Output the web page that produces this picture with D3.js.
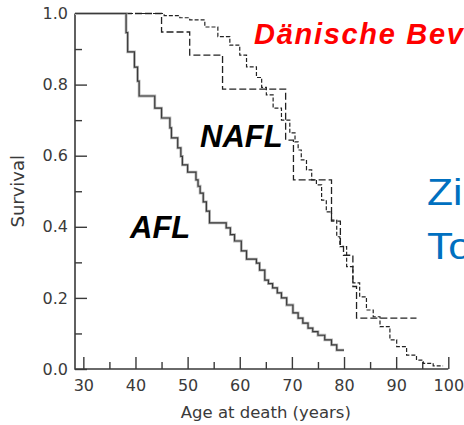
<!DOCTYPE html>
<html>
<head>
<meta charset="utf-8">
<script src="https://cdn.jsdelivr.net/npm/d3@7"></script>
<style>
  body { margin: 0; background: #fff; }
  svg { display: block; }
</style>
</head>
<body>
<script>
// axis ticks
var xTicks = [30, 40, 50, 60, 70, 80, 90, 100];
var xMinor = [35, 45, 55, 65, 75, 85, 95];
var yTicks = [0, 0.2, 0.4, 0.6, 0.8, 1.0];
var yMinor = [0.1, 0.3, 0.5, 0.7, 0.9];

// AFL (Kaplan-Meier, solid)
var aflAge  = [28.4, 38.2, 38.5, 39.8, 40.4, 40.7, 43.7, 45.0, 46.6, 46.9, 48.1, 48.7, 49.0, 50.0, 51.6, 52.0, 52.4, 53.0, 53.6, 54.2, 57.4, 58.2, 59.0, 60.3, 61.3, 63.2, 63.8, 64.8, 65.5, 66.3, 67.2, 68.0, 69.0, 70.2, 71.2, 72.1, 73.1, 74.0, 75.0, 76.3, 77.6, 78.6, 80.0];
var aflSurv = [1.0, 0.946, 0.892, 0.849, 0.81, 0.768, 0.734, 0.706, 0.678, 0.65, 0.622, 0.598, 0.574, 0.554, 0.532, 0.514, 0.495, 0.47, 0.444, 0.411, 0.397, 0.378, 0.36, 0.332, 0.309, 0.298, 0.278, 0.25, 0.24, 0.228, 0.214, 0.2, 0.18, 0.158, 0.143, 0.129, 0.115, 0.105, 0.095, 0.082, 0.068, 0.053, 0.053];

// NAFL (Kaplan-Meier, long dashes)
var naflAge  = [28.4, 45.0, 50.4, 56.7, 68.8, 70.3, 77.6, 79.3, 79.9, 81.7, 82.4, 93.9];
var naflSurv = [1.0, 0.948, 0.883, 0.787, 0.644, 0.532, 0.416, 0.345, 0.32, 0.232, 0.143, 0.143];

// expected survival, background population (short dashes)
var popAge  = [28.4, 45.5, 48.5, 50.4, 53.3, 55.8, 58.1, 60.0, 61.3, 63.2, 64.2, 65.1, 66.4, 68.0, 69.6, 70.6, 71.2, 71.8, 72.8, 73.8, 74.7, 75.7, 76.6, 77.6, 78.6, 79.2, 80.5, 81.7, 83.0, 84.3, 85.6, 86.9, 88.8, 90.1, 92.0, 93.9, 95.2, 97.1, 99.0];
var popSurv = [1.0, 0.994, 0.988, 0.982, 0.962, 0.935, 0.911, 0.883, 0.85, 0.82, 0.792, 0.771, 0.734, 0.7, 0.664, 0.639, 0.616, 0.588, 0.56, 0.532, 0.518, 0.475, 0.442, 0.419, 0.372, 0.344, 0.288, 0.242, 0.203, 0.166, 0.147, 0.119, 0.082, 0.063, 0.039, 0.025, 0.016, 0.009, 0.009];

var axisColor = "#3a3a3a";

var svg = d3.select("body")
    .append("svg")
    .attr("width", 464)
    .attr("height", 425);

var x = d3.scaleLinear().domain([28.4, 100]).range([75, 448.3]);
var y = d3.scaleLinear().domain([0, 1]).range([369, 13.5]);

//x axis, major ticks with labels
svg.append("g")
    .attr("transform", "translate(0," + y(0) + ")")
    .attr("color", axisColor)
    .call(d3.axisBottom(x).tickValues(xTicks).tickSize(-12).tickPadding(11).tickFormat(d3.format("d")))
    .call(g => g.select(".domain").remove())
    .call(g => g.selectAll("line").attr("stroke-width", 1.4))
    .call(g => g.selectAll("text").attr("font-family", "DejaVu Sans").attr("font-size", 16));

//x axis minor ticks
svg.append("g")
    .attr("transform", "translate(0," + y(0) + ")")
    .attr("color", axisColor)
    .call(d3.axisBottom(x).tickValues(xMinor).tickSize(-7).tickFormat(""))
    .call(g => g.select(".domain").remove())
    .call(g => g.selectAll("line").attr("stroke-width", 1.4));

//y axis
svg.append("g")
    .attr("transform", "translate(" + x.range()[0] + ",0)")
    .attr("color", axisColor)
    .call(d3.axisLeft(y).tickValues(yTicks).tickSize(-12).tickPadding(7).tickFormat(d3.format(".1f")))
    .call(g => g.select(".domain").remove())
    .call(g => g.selectAll("line").attr("stroke-width", 1.4))
    .call(g => g.selectAll("text").attr("font-family", "DejaVu Sans").attr("font-size", 16));

svg.append("g")
    .attr("transform", "translate(" + x.range()[0] + ",0)")
    .attr("color", axisColor)
    .call(d3.axisLeft(y).tickValues(yMinor).tickSize(-7).tickFormat(""))
    .call(g => g.select(".domain").remove())
    .call(g => g.selectAll("line").attr("stroke-width", 1.4));

//axis lines
svg.append("path")
    .attr("fill", "none")
    .attr("stroke", axisColor)
    .attr("stroke-width", 1.6)
    .attr("d", "M" + x.range()[0] + "," + y(1) + "V" + y(0) + "H" + x.range()[1]);

//axis titles
svg.append("text")
    .attr("x", x(65))
    .attr("y", 418)
    .attr("text-anchor", "middle")
    .attr("font-family", "DejaVu Sans")
    .attr("font-size", 16.5)
    .attr("fill", axisColor)
    .text("Age at death (years)");

svg.append("text")
    .attr("transform", "translate(24," + y(0.5) + ") rotate(-90)")
    .attr("text-anchor", "middle")
    .attr("font-family", "DejaVu Sans")
    .attr("font-size", 18)
    .attr("fill", axisColor)
    .text("Survival");

//curves
var line = d3.line()
    .x(d => x(d[0]))
    .y(d => y(d[1]))
    .curve(d3.curveStepAfter);

var afl = d3.zip(aflAge, aflSurv);
var nafl = d3.zip(naflAge, naflSurv);
var pop = d3.zip(popAge, popSurv);

svg.append("path")
    .attr("d", line(pop))
    .attr("fill", "none")
    .attr("stroke", "#222")
    .attr("stroke-width", 1.2)
    .attr("stroke-dasharray", "4,2");

svg.append("path")
    .attr("d", line(nafl))
    .attr("fill", "none")
    .attr("stroke", "#222")
    .attr("stroke-width", 1.3)
    .attr("stroke-dasharray", "7,3");

// AFL has a soft grey edge in the source
svg.append("path")
    .attr("d", line(afl))
    .attr("fill", "none")
    .attr("stroke", "#b5b5b5")
    .attr("stroke-width", 2.8);

svg.append("path")
    .attr("d", line(afl))
    .attr("fill", "none")
    .attr("stroke", "#3a3a3a")
    .attr("stroke-width", 1.2);

//labels on the plot
svg.append("text")
    .attr("x", 200)
    .attr("y", 147)
    .attr("font-family", "Liberation Sans")
    .attr("font-weight", "bold")
    .attr("font-style", "italic")
    .attr("font-size", 31)
    .attr("fill", "#000")
    .text("NAFL");

svg.append("text")
    .attr("x", 130)
    .attr("y", 238)
    .attr("font-family", "Liberation Sans")
    .attr("font-weight", "bold")
    .attr("font-style", "italic")
    .attr("font-size", 31)
    .attr("fill", "#000")
    .text("AFL");

svg.append("text")
    .attr("x", 254)
    .attr("y", 44)
    .attr("font-family", "Liberation Sans")
    .attr("font-weight", "bold")
    .attr("font-style", "italic")
    .attr("font-size", 29)
    .attr("letter-spacing", 1.7)
    .attr("fill", "#ff0000")
    .text("Dänische Bevölkerung");

svg.append("text")
    .attr("transform", "translate(427,205) scale(1.15,1)")
    .attr("font-family", "Liberation Sans")
    .attr("font-size", 37)
    .attr("fill", "#0070c0")
    .text("Zirrhose");

svg.append("text")
    .attr("transform", "translate(427,259) scale(1.15,1)")
    .attr("font-family", "Liberation Sans")
    .attr("font-size", 37)
    .attr("fill", "#0070c0")
    .text("Tod");
</script>
</body>
</html>
